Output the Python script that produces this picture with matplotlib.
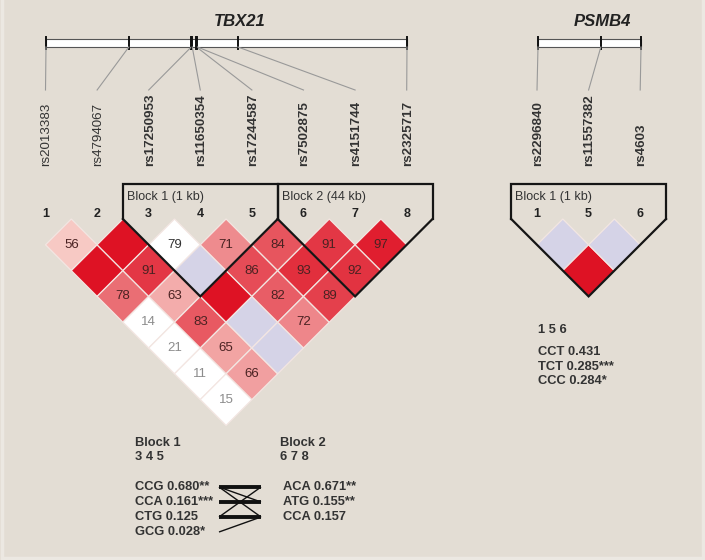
import matplotlib
matplotlib.use('Agg')
import matplotlib.pyplot as plt
from matplotlib.patches import Polygon, Rectangle

plt.rcParams['font.family'] = ['Liberation Sans', 'DejaVu Sans']

BG = '#e3ddd4'
RED = (222, 18, 36)
PINK0 = (250, 226, 218)
LAV = '#d5d3e7'

# TBX21 data
tbx21_snps = ['rs2013383', 'rs4794067', 'rs17250953', 'rs11650354',
              'rs17244587', 'rs7502875', 'rs4151744', 'rs2325717']
tbx21_pos_kb = [0, 17.4, 30.5, 30.7, 31.6, 31.8, 40.3, 75.8]
tbx21_nums = ['1', '2', '3', '4', '5', '6', '7', '8']
# D' (x100), upper triangle, row i = pairs (i, i+1..n)
tbx21_dp = [
    [56, 100, 78, 14, 21, 11, 15],
    [100, 91, 63, 83, 65, 66],
    [79, 100, 100, 100, 100],
    [71, 86, 82, 72],
    [84, 93, 89],
    [91, 92],
    [97],
]
tbx21_weak = [(1, 5), (1, 6), (1, 7), (1, 8), (3, 4), (3, 5), (3, 7), (3, 8)]
tbx21_blocks = [(3, 5, 'Block 1 (1 kb)'), (6, 8, 'Block 2 (44 kb)')]

# PSMB4 data
psmb4_snps = ['rs2296840', 'rs11557382', 'rs4603']
psmb4_pos_kb = [0, 0.61, 1.0]
psmb4_nums = ['1', '5', '6']
psmb4_dp = [
    [100, 100],
    [100],
]
psmb4_weak = [(1, 2), (2, 3)]
psmb4_blocks = [(1, 3, 'Block 1 (1 kb)')]

# haplotypes
block1_title = ['Block 1', '3 4 5']
block1_haps = ['CCG 0.680**', 'CCA 0.161***', 'CTG 0.125', 'GCG 0.028*']
block2_title = ['Block 2', '6 7 8']
block2_haps = ['ACA 0.671**', 'ATG 0.155**', 'CCA 0.157']
# crossings (left row, right row, thick?)
crossings = [(0, 0, True), (1, 1, True), (2, 2, True),
             (0, 1, False), (0, 2, False), (2, 0, False), (3, 2, False)]
psmb4_title = '1 5 6'
psmb4_haps = ['CCT 0.431', 'TCT 0.285***', 'CCC 0.284*']


def cell_color(d, strong):
    if d >= 100:
        return tuple(c / 255 for c in RED) if strong else LAV
    if not strong:
        return 'white'
    t = min(max((d - 50) / 50.0, 0), 1)
    return tuple((PINK0[k] + (RED[k] - PINK0[k]) * t) / 255 for k in range(3))


def draw_gene(ax, name, snps, pos_kb, nums, dp, weak, blocks, x0, bar_x0, bar_x1, bold_from=0):
    sp = 51.6
    h = sp / 2
    xs = [x0 + i * sp for i in range(len(snps))]
    # gene bar
    scale = (bar_x1 - bar_x0) / (pos_kb[-1] - pos_kb[0])
    px = [bar_x0 + (p - pos_kb[0]) * scale for p in pos_kb]
    ax.text((bar_x0 + bar_x1) / 2 + 13, 21, name, fontsize=12, fontweight='bold',
            style='italic', ha='center', va='center', color='#222222')
    ax.add_patch(Rectangle((bar_x0, 39), bar_x1 - bar_x0, 8, facecolor='white',
                           edgecolor='#555555', lw=0.8))
    for i, (p, x, s) in enumerate(zip(px, xs, snps)):
        ax.plot([p, p], [37, 49], color='#111111', lw=1.4)
        ax.plot([p, x], [47, 90], color='#999999', lw=0.8)
        ax.text(x + 1, 166, s, rotation=90, ha='center', va='bottom', fontsize=9.6,
                fontweight='bold' if i >= bold_from else 'normal', color='#333333')
    # numbers
    for x, n in zip(xs, nums):
        ax.text(x, 214, n, fontsize=9, fontweight='bold', ha='center', va='center', color='#222222')
    # LD cells
    top = 219
    for i, row in enumerate(dp):
        for k, d in enumerate(row):
            j = i + k + 1
            cx = (xs[i] + xs[j]) / 2
            cy = top + h + (j - i - 1) * h
            strong = (i + 1, j + 1) not in weak
            poly = Polygon([(cx, cy - h), (cx + h, cy), (cx, cy + h), (cx - h, cy)],
                           facecolor=cell_color(d, strong), edgecolor='#f3e6e2', lw=0.9)
            ax.add_patch(poly)
            if d < 100:
                if d < 50:
                    tc = '#8c8c8c'
                elif strong:
                    tc = '#4a2222'
                else:
                    tc = '#333333'
                ax.text(cx, cy, str(d), fontsize=9.5, ha='center', va='center', color=tc)
    # block outlines
    for a, b, label in blocks:
        xl = xs[a - 1] - h
        xr = xs[b - 1] + h
        xb = (xs[a - 1] + xs[b - 1]) / 2
        yb = top + (b - a + 1) * h
        ax.plot([xl, xl, xr, xr], [top, 184, 184, top], color='#151515', lw=1.6,
                solid_joinstyle='miter')
        ax.plot([xl, xb, xr], [top, yb, top], color='#151515', lw=1.6,
                solid_joinstyle='miter')
        ax.text(xl + 4, 197, label, fontsize=9, ha='left', va='center', color='#333333')


fig = plt.figure(figsize=(7.05, 5.6), dpi=100, facecolor=BG)
ax = fig.add_axes([0, 0, 1, 1])
ax.set_xlim(0, 705)
ax.set_ylim(560, 0)
ax.axis('off')
ax.set_facecolor(BG)

draw_gene(ax, 'TBX21', tbx21_snps, tbx21_pos_kb, tbx21_nums, tbx21_dp, tbx21_weak,
          tbx21_blocks, 45.5, 46, 407, bold_from=2)
draw_gene(ax, 'PSMB4', psmb4_snps, psmb4_pos_kb, psmb4_nums, psmb4_dp, psmb4_weak,
          psmb4_blocks, 537, 538, 641)

# haplotype text
txt = dict(fontsize=9.3, fontweight='bold', ha='left', va='center', color='#333333')
for k, t in enumerate(block1_title):
    ax.text(135, 443 + k * 14, t, **txt)
for k, t in enumerate(block2_title):
    ax.text(280, 443 + k * 14, t, **txt)
for k, t in enumerate(block1_haps):
    ax.text(135, 487 + k * 15, t, **txt)
for k, t in enumerate(block2_haps):
    ax.text(283, 487 + k * 15, t, **txt)
for l, r, thick in crossings:
    ax.plot([219, 261], [487 + l * 15, 487 + r * 15], color='#111111',
            lw=2.8 if thick else 1.0, solid_capstyle='butt')

ax.text(538, 330, psmb4_title, **txt)
for k, t in enumerate(psmb4_haps):
    ax.text(538, 352 + k * 14.5, t, **txt)

# light frame around the picture
ax.add_patch(Rectangle((1.5, -2), 701, 559.5, facecolor='none', edgecolor='#ece8e2', lw=2.5))

fig.savefig('out.png', dpi=100, facecolor=BG)
